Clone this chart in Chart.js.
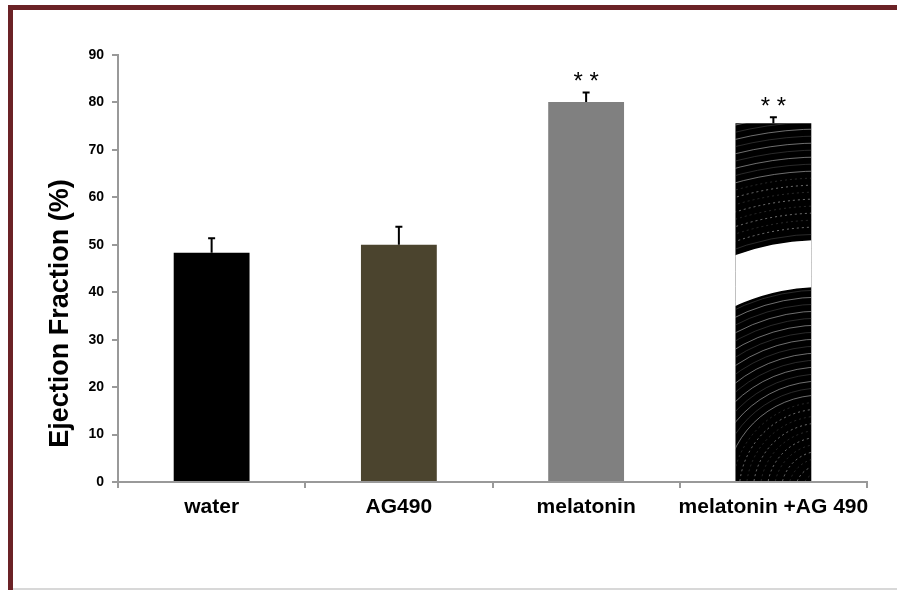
<!DOCTYPE html>
<html>
<head>
<meta charset="utf-8">
<title>Ejection Fraction</title>
<script src="https://cdn.jsdelivr.net/npm/chart.js@4.4.1/dist/chart.umd.min.js"></script>
<style>
	html, body { margin: 0; padding: 0; background: #fff; }
	#wrap { width: 897px; height: 590px; }
</style>
</head>
<body>
<div id="wrap"><canvas id="efChart" width="897" height="590"></canvas></div>
<script>
	// data
	var groupLabels = ['water', 'AG490', 'melatonin', 'melatonin +AG 490'];
	var efMeans = [48.3, 50.0, 80.1, 75.6];
	var efSem = [3.1, 3.8, 2.0, 1.3];
	var sigMarks = ['', '', '* *', '* *'];
	var barColors = ['#000000', '#4b442e', '#808080', '#000000'];
	var yTicks = [0, 10, 20, 30, 40, 50, 60, 70, 80, 90];

	var FONT = 'Arial, "Liberation Sans", sans-serif';

	// white page + maroon frame like the original slide
	var framePlugin = {
		id: 'frame',
		beforeDraw: function (chart) {
			var c = chart.ctx;
			c.save();
			c.fillStyle = '#fff';
			c.fillRect(0, 0, chart.width, chart.height);
			c.fillStyle = '#6b2226';
			c.fillRect(8, 5, chart.width - 8, 5);
			c.fillRect(8, 5, 5, chart.height - 5);
			c.fillStyle = '#d8d8d8';
			c.fillRect(13, chart.height - 2, chart.width - 13, 2);
			c.restore();
		}
	};

	// the last bar is a scanned texture in the source: black with concentric rings and a torn band
	var texturePlugin = {
		id: 'texture',
		afterDatasetsDraw: function (chart) {
			var meta = chart.getDatasetMeta(0);
			var bar = meta.data[3];
			if (!bar) return;
			var y = chart.scales.y;
			var c = chart.ctx;
			var left = bar.x - bar.width / 2, right = bar.x + bar.width / 2;
			var top = bar.y, bottom = bar.base;
			var cx = right + 10, cy = bottom + 10;
			var unit = y.getPixelForValue(0) - y.getPixelForValue(1);
			c.save();
			c.beginPath();
			c.rect(left, top, right - left, bottom - top);
			c.clip();
			c.lineWidth = 1;
			for (var r = 12; r < 420; r += 7) {
				c.strokeStyle = (Math.floor(r / 7) % 2) ? 'rgba(200,200,200,0.55)' : 'rgba(120,120,120,0.35)';
				c.setLineDash(r < 90 || (r > 260 && r < 320) ? [2, 3] : []);
				c.beginPath();
				c.arc(cx, cy, r, Math.PI, Math.PI * 1.5);
				c.stroke();
			}
			c.setLineDash([]);
			// white torn band
			c.fillStyle = '#fff';
			c.beginPath();
			c.arc(cx, cy, 52.9 * unit, Math.PI, Math.PI * 1.5);
			c.arc(cx, cy, 43 * unit, Math.PI * 1.5, Math.PI, true);
			c.closePath();
			c.fill();
			c.restore();
		}
	};

	// one-sided error bars and significance stars
	var errorPlugin = {
		id: 'errorBars',
		afterDatasetsDraw: function (chart) {
			var meta = chart.getDatasetMeta(0);
			var y = chart.scales.y;
			var c = chart.ctx;
			c.save();
			meta.data.forEach(function (bar, i) {
				var yTop = y.getPixelForValue(efMeans[i] + efSem[i]);
				c.strokeStyle = '#000';
				c.lineWidth = 2;
				c.beginPath();
				c.moveTo(bar.x, bar.y);
				c.lineTo(bar.x, yTop);
				c.moveTo(bar.x - 3.5, yTop);
				c.lineTo(bar.x + 3.5, yTop);
				c.stroke();
				if (sigMarks[i]) {
					c.fillStyle = '#000';
					c.font = '24px ' + FONT;
					c.textAlign = 'center';
					c.textBaseline = 'alphabetic';
					c.fillText(sigMarks[i], bar.x, yTop - 3);
				}
			});
			c.restore();
		}
	};

	// y title sits a bit below the middle of the axis in the source
	var yTitlePlugin = {
		id: 'yTitle',
		afterDraw: function (chart) {
			var a = chart.chartArea;
			var c = chart.ctx;
			c.save();
			c.translate(61, (a.top + a.bottom) / 2 + 45);
			c.rotate(-Math.PI / 2);
			c.fillStyle = '#000';
			c.font = 'bold 27px ' + FONT;
			c.textAlign = 'center';
			c.textBaseline = 'middle';
			c.fillText('Ejection Fraction (%)', 0, 0);
			c.restore();
		}
	};

	new Chart(document.getElementById('efChart'), {
		type: 'bar',
		data: {
			labels: groupLabels,
			datasets: [{
				data: efMeans,
				backgroundColor: barColors,
				borderWidth: 0,
				barPercentage: 0.405,
				categoryPercentage: 1.0
			}]
		},
		options: {
			responsive: false,
			animation: false,
			layout: { padding: { left: 0, top: 55, right: 30, bottom: 0 } },
			plugins: {
				legend: { display: false },
				tooltip: { enabled: false }
			},
			scales: {
				x: {
					grid: {
						display: true,
						offset: true,
						drawOnChartArea: false,
						drawTicks: true,
						tickLength: 6,
						color: '#999',
						lineWidth: 2
					},
					border: { display: true, color: '#999', width: 2 },
					ticks: {
						color: '#000',
						font: { family: FONT, size: 21, weight: 'bold' },
						padding: 7,
						maxRotation: 0,
						autoSkip: false
					},
					afterFit: function (s) { s.height = 108; }
				},
				y: {
					min: 0,
					max: 90,
					afterBuildTicks: function (s) { s.ticks = yTicks.map(function (v) { return { value: v }; }); },
					grid: {
						display: true,
						drawOnChartArea: false,
						drawTicks: true,
						tickLength: 6,
						color: '#999',
						lineWidth: 2
					},
					border: { display: true, color: '#999', width: 2 },
					ticks: {
						color: '#000',
						font: { family: FONT, size: 14, weight: 'bold' },
						padding: 8
					},
					afterFit: function (s) { s.width = 118; }
				}
			}
		},
		plugins: [framePlugin, texturePlugin, errorPlugin, yTitlePlugin]
	});
</script>
</body>
</html>
